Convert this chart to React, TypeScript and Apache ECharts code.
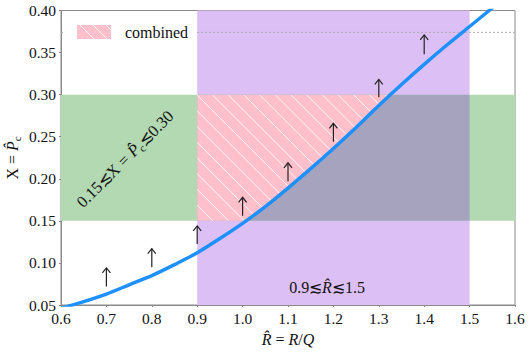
import React, { useEffect, useRef } from "react";
import * as echarts from "echarts";

// ---- data ----
const xMin = 0.6;
const xMax = 1.6;
const xStep = 0.1;
const yMin = 0.05;
const yMax = 0.4;
const yStep = 0.05;

const curveX = [0.6, 0.65, 0.7, 0.75, 0.8, 0.85, 0.9, 0.95, 1.0, 1.05, 1.1, 1.15, 1.2, 1.25, 1.3, 1.35, 1.4, 1.45, 1.5, 1.55, 1.6];
const curveY = [0.046, 0.054, 0.063, 0.074, 0.085, 0.098, 0.112, 0.129, 0.147, 0.167, 0.189, 0.212, 0.236, 0.261, 0.287, 0.312, 0.336, 0.359, 0.381, 0.403, 0.425];

const arrowX = [0.7, 0.8, 0.9, 1.0, 1.1, 1.2, 1.3, 1.4];
const arrowFrom = [0.072, 0.095, 0.1225, 0.156, 0.197, 0.244, 0.297, 0.348];
const arrowTo = [0.094, 0.117, 0.144, 0.178, 0.219, 0.266, 0.318, 0.371];

const rRange = [0.9, 1.5];
const pRange = [0.15, 0.3];
const refLineY = 0.374;

const SERIF = "'Liberation Serif', 'DejaVu Serif', 'Times New Roman', serif";

function crossX(level: number): number {
  for (let i = 0; i < curveX.length - 1; i++) {
    if (curveY[i] <= level && curveY[i + 1] >= level) {
      return curveX[i] + ((level - curveY[i]) / (curveY[i + 1] - curveY[i])) * (curveX[i + 1] - curveX[i]);
    }
  }
  return curveX[curveX.length - 1];
}

function buildCombined(): number[][] {
  const xLo = crossX(pRange[0]);
  const xHi = crossX(pRange[1]);
  const pts: number[][] = [
    [rRange[0], pRange[1]],
    [rRange[0], pRange[0]],
    [xLo, pRange[0]],
  ];
  for (let i = 0; i < curveX.length; i++) {
    if (curveX[i] > xLo && curveX[i] < xHi) pts.push([curveX[i], curveY[i]]);
  }
  pts.push([xHi, pRange[1]]);
  return pts;
}

export default function App() {
  const ref = useRef<HTMLDivElement>(null);
  useEffect(() => {
    if (!ref.current) return;
    const chart = echarts.init(ref.current, undefined, { renderer: "svg" });
    const combined = buildCombined();
    const axisColor = "#8a8a8a";

    const option: any = {
      animation: false,
      backgroundColor: "#fff",
      grid: {
        left: 61,
        right: 15,
        top: 10.5,
        bottom: 49,
        show: true,
        borderColor: axisColor,
        borderWidth: 1,
        backgroundColor: "transparent",
      },
      xAxis: {
        type: "value",
        min: xMin,
        max: xMax,
        interval: xStep,
        splitLine: { show: false },
        axisLine: { show: true, lineStyle: { color: axisColor, width: 1 } },
        axisTick: { show: true, length: 2, lineStyle: { color: axisColor } },
        axisLabel: {
          color: "#111",
          fontFamily: SERIF,
          fontSize: 15.5,
          margin: 5,
          formatter: (v: number) => v.toFixed(1),
        },
      },
      yAxis: {
        type: "value",
        min: yMin,
        max: yMax,
        interval: yStep,
        splitLine: { show: false },
        axisLine: { show: true, lineStyle: { color: axisColor, width: 1 } },
        axisTick: { show: true, length: 2, lineStyle: { color: axisColor } },
        axisLabel: {
          color: "#111",
          fontFamily: SERIF,
          fontSize: 15.5,
          margin: 5,
          formatter: (v: number) => v.toFixed(2),
        },
      },
      series: [
        {
          type: "line",
          data: [],
          z: 1,
          silent: true,
          markArea: {
            silent: true,
            label: { show: false },
            data: [
              [
                { xAxis: rRange[0], itemStyle: { color: "#DCC0F5", opacity: 1, borderWidth: 0 } },
                { xAxis: rRange[1] },
              ],
              [
                { yAxis: pRange[0], itemStyle: { color: "#B3D9B3", opacity: 1, borderWidth: 0 } },
                { yAxis: pRange[1] },
              ],
              [
                { xAxis: rRange[0], yAxis: pRange[0], itemStyle: { color: "#A5A3BE", opacity: 1, borderWidth: 0 } },
                { xAxis: rRange[1], yAxis: pRange[1] },
              ],
            ],
          },
        },
        {
          type: "line",
          z: 1.5,
          silent: true,
          data: [[xMin, refLineY], [xMax, refLineY]],
          showSymbol: false,
          symbol: "none",
          lineStyle: { color: "#a8a8a8", type: [2, 2], width: 0.9 },
        },
        {
          type: "custom",
          z: 2,
          silent: true,
          data: [[0]],
          renderItem: (params: any, api: any) => {
            const pts = combined.map((p) => api.coord(p));
            let minX = Infinity, maxX = -Infinity, minY = Infinity, maxY = -Infinity;
            pts.forEach((p: number[]) => {
              minX = Math.min(minX, p[0]);
              maxX = Math.max(maxX, p[0]);
              minY = Math.min(minY, p[1]);
              maxY = Math.max(maxY, p[1]);
            });
            const H = maxY - minY;
            const spacing = 15.7;
            const lines: any[] = [];
            for (let x = minX - H - spacing; x <= maxX + spacing; x += spacing) {
              lines.push({
                type: "line",
                shape: { x1: x, y1: minY, x2: x + H, y2: maxY },
                style: { stroke: "rgba(255,255,255,0.9)", lineWidth: 1 },
              });
            }
            return {
              type: "group",
              children: [
                { type: "polygon", shape: { points: pts }, style: { fill: "#FFC0CB", stroke: null } },
                {
                  type: "group",
                  clipPath: { type: "polygon", shape: { points: pts } },
                  children: lines,
                },
              ],
            };
          },
        },
        {
          type: "line",
          z: 3,
          silent: true,
          data: curveX.map((x, i) => [x, curveY[i]]),
          showSymbol: false,
          symbol: "none",
          clip: true,
          smooth: 0.3,
          lineStyle: { color: "#1E90FF", width: 3.5 },
        },
        {
          type: "custom",
          z: 4,
          silent: true,
          data: arrowX.map((x, i) => [x, arrowFrom[i], arrowTo[i]]),
          renderItem: (params: any, api: any) => {
            const x = api.value(0);
            const p0 = api.coord([x, api.value(1)]);
            const p1 = api.coord([x, api.value(2)]);
            const st = { stroke: "#222", lineWidth: 1.2, fill: null };
            return {
              type: "group",
              children: [
                { type: "line", shape: { x1: p0[0], y1: p0[1], x2: p1[0], y2: p1[1] }, style: st },
                {
                  type: "polyline",
                  shape: { points: [[p1[0] - 4, p1[1] + 5], [p1[0], p1[1]], [p1[0] + 4, p1[1] + 5]] },
                  style: st,
                },
              ],
            };
          },
        },
      ],
      graphic: [
        { type: "rect", z: 100, shape: { x: 63, y: 13, width: 133, height: 38 }, style: { fill: "#fff" } },
        { type: "rect", z: 101, shape: { x: 77, y: 25, width: 34, height: 14 }, style: { fill: "#FFC0CB" } },
        { type: "line", z: 102, shape: { x1: 80, y1: 25, x2: 94, y2: 39 }, style: { stroke: "rgba(255,255,255,0.9)", lineWidth: 1 } },
        { type: "line", z: 102, shape: { x1: 93, y1: 25, x2: 107, y2: 39 }, style: { stroke: "rgba(255,255,255,0.9)", lineWidth: 1 } },
        { type: "line", z: 102, shape: { x1: 106, y1: 25, x2: 111, y2: 30 }, style: { stroke: "rgba(255,255,255,0.9)", lineWidth: 1 } },
        {
          type: "text",
          z: 102,
          x: 125,
          y: 32,
          style: { text: "combined", font: `16px ${SERIF}`, fill: "#111", textAlign: "left", textVerticalAlign: "middle" },
        },
        {
          type: "text",
          z: 102,
          x: 125,
          y: 159,
          rotation: Math.PI / 4,
          style: {
            text: "{n|0.15\u2272X = }{i|P\u0302}{s|c}{n|\u22720.30}",
            textAlign: "center",
            textVerticalAlign: "middle",
            fill: "#111",
            rich: {
              n: { fontFamily: SERIF, fontSize: 16.5, lineHeight: 20, verticalAlign: "middle" },
              i: { fontFamily: SERIF, fontSize: 16.5, fontStyle: "italic", lineHeight: 20, verticalAlign: "middle" },
              s: { fontFamily: SERIF, fontSize: 11, lineHeight: 20, verticalAlign: "bottom" },
            },
          },
        },
        {
          type: "text",
          z: 102,
          x: 327,
          y: 287,
          style: {
            text: "{n|0.9\u2272}{i|R\u0302}{n|\u22721.5}",
            textAlign: "center",
            textVerticalAlign: "middle",
            fill: "#111",
            rich: {
              n: { fontFamily: SERIF, fontSize: 16 },
              i: { fontFamily: SERIF, fontSize: 16, fontStyle: "italic" },
            },
          },
        },
        {
          type: "text",
          z: 102,
          x: 288,
          y: 339,
          style: {
            text: "{i|R\u0302}{n| = }{i|R}{n|/}{i|Q}",
            textAlign: "center",
            textVerticalAlign: "middle",
            fill: "#111",
            rich: {
              n: { fontFamily: SERIF, fontSize: 16 },
              i: { fontFamily: SERIF, fontSize: 16, fontStyle: "italic" },
            },
          },
        },
        {
          type: "text",
          z: 102,
          x: 12,
          y: 158,
          rotation: Math.PI / 2,
          style: {
            text: "{n|X = }{i|P\u0302}{s|c}",
            textAlign: "center",
            textVerticalAlign: "middle",
            fill: "#111",
            rich: {
              n: { fontFamily: SERIF, fontSize: 16, lineHeight: 20, verticalAlign: "middle" },
              i: { fontFamily: SERIF, fontSize: 16, fontStyle: "italic", lineHeight: 20, verticalAlign: "middle" },
              s: { fontFamily: SERIF, fontSize: 11, lineHeight: 20, verticalAlign: "bottom" },
            },
          },
        },
      ],
    };
    chart.setOption(option);
    return () => chart.dispose();
  }, []);
  return <div ref={ref} style={{ position: "absolute", left: 0, top: 0, width: 530, height: 354 }} />;
}
